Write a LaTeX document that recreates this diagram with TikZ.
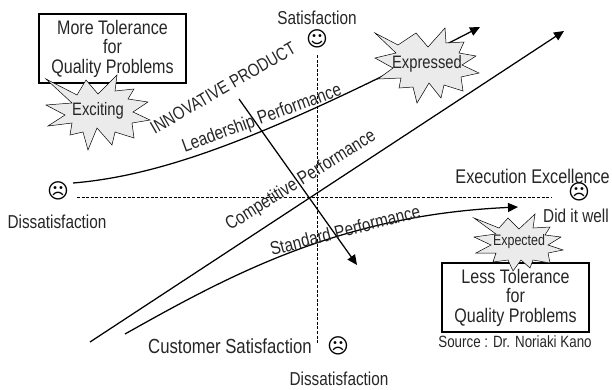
\documentclass[tikz,border=0pt]{standalone}
\usepackage{fontspec}
\setmainfont{Liberation Sans}[FakeStretch=0.82]
\newfontfamily\facefont{DejaVu Sans}
\usetikzlibrary{arrows.meta}
\definecolor{labelgray}{gray}{0.15}
\tikzset{
	curve/.style={line width=1.25pt},
	arrowcurve/.style={curve,-{Triangle[length=10pt,width=9pt]}},
	axis/.style={line width=0.9pt,dash pattern=on 3pt off 1.6pt},
	label/.style={text=labelgray,font=\fontsize{18.7}{18.7}\selectfont,inner sep=0pt},
	tolbox/.style={draw=black,line width=1.25pt,minimum width=147pt,minimum height=69pt,inner sep=0pt,align=center,text=labelgray,font=\fontsize{19.6}{19.5}\selectfont},
	burst/.style={draw,line width=0.5pt,fill=black!8},
	face/.style={text=black,font=\facefont\fontsize{21}{21}\selectfont,inner sep=0pt}
}
\begin{document}
\begin{tikzpicture}[x=1pt,y=-1pt]
	\useasboundingbox (0,0) rectangle (612,389);

	\coordinate (leadstart) at (73,183);
	\coordinate (leadend) at (480,27);
	\coordinate (compstart) at (90,342);
	\coordinate (compend) at (564,31);
	\coordinate (stdstart) at (125,334);
	\coordinate (stdend) at (518,207);
	\coordinate (innostart) at (239,99);
	\coordinate (innoend) at (357,265);
	\coordinate (axisleft) at (77,197);
	\coordinate (axisright) at (551,197);
	\coordinate (axistop) at (317,55);
	\coordinate (axisbottom) at (317,343);

	\draw[axis] (axisleft) -- (axisright);
	\draw[axis] (axistop) -- (axisbottom);

	\draw[arrowcurve] (leadstart) .. controls (170,175) and (280,130) .. (leadend);
	\draw[arrowcurve] (compstart) -- (compend);
	\draw[arrowcurve] (stdstart) .. controls (230,275) and (340,215) .. (stdend);
	\draw[arrowcurve] (innostart) -- (innoend);

	\node[tolbox] (moretol) at (112.5,48.5){More Tolerance\\for\\Quality Problems};
	\node[tolbox] (lesstol) at (515.5,297.5){Less Tolerance\\for\\Quality Problems};

	% bursts
	\draw[burst] (46,79) -- (77,95) -- (86,80) -- (98,94) -- (117,75) -- (115,91) -- (134,89) -- (128,99) -- (148,102) -- (133,112) -- (150,120) -- (132,123) -- (134,138) -- (115,132) -- (112,145) -- (97,128) -- (88,150) -- (83,132) -- (70,135) -- (72,123) -- (48,126) -- (65,115) -- (46,105) -- (72,103) -- cycle;
	\draw[burst] (375,33) -- (398,45) -- (416,33) -- (428,47) -- (445,28) -- (446,43) -- (464,42) -- (459,53) -- (476,56) -- (462,65) -- (479,73) -- (461,77) -- (463,91) -- (444,85) -- (441,98) -- (429,83) -- (417,103) -- (413,87) -- (399,88) -- (401,78) -- (378,79) -- (393,68) -- (375,58) -- (396,53) -- cycle;
	\draw[burst] (474,218) -- (499,228) -- (508,218) -- (519,229) -- (535,214) -- (533,228) -- (550,227) -- (545,235) -- (561,237) -- (548,245) -- (563,250) -- (548,253) -- (550,263) -- (533,260) -- (530,268) -- (521,260) -- (513,271) -- (508,260) -- (493,262) -- (496,253) -- (476,253) -- (491,245) -- (474,237) -- (496,234) -- cycle;

	\node[label,font=\fontsize{18}{18}\selectfont] (exciting) at (98,111){Exciting};
	\node[label,font=\fontsize{18}{18}\selectfont] (expressed) at (427,64){Expressed};
	\node[label,font=\fontsize{15.2}{15.2}\selectfont] (expected) at (519,242){Expected};

	\node[label] (sat) at (317,18){Satisfaction};
	\node[label] (dissatleft) at (57,222){Dissatisfaction};
	\node[label,anchor=east,font=\fontsize{19.8}{19.8}\selectfont] (excellence) at (610,176){Execution Excellence};
	\node[label,anchor=east] (welldone) at (609,216){Did it well};
	\node[label,anchor=east,font=\fontsize{20.4}{20.4}\selectfont] (custsat) at (312,346){Customer Satisfaction};
	\node[label] (dissatbottom) at (339,378.5){Dissatisfaction};
	\node[label,font=\fontsize{16.3}{16.3}\selectfont] (source) at (515,342){Source : Dr. Noriaki Kano};

	\node[label,rotate=30,font=\fontsize{18}{18}\selectfont] (innovative) at (223,88){INNOVATIVE PRODUCT};
	\node[label,rotate=20] (leadership) at (262,119){Leadership Performance};
	\node[label,rotate=32] (competitive) at (301,181){Competitive Performance};
	\node[label,rotate=14.5] (standard) at (345,230){Standard Performance};

	\node[face] (happy) at (317,39){☺};
	\node[face] (sadleft) at (58,191){☹};
	\node[face] (sadright) at (579,192){☹};
	\node[face] (sadbottom) at (338,346){☹};
\end{tikzpicture}
\end{document}
